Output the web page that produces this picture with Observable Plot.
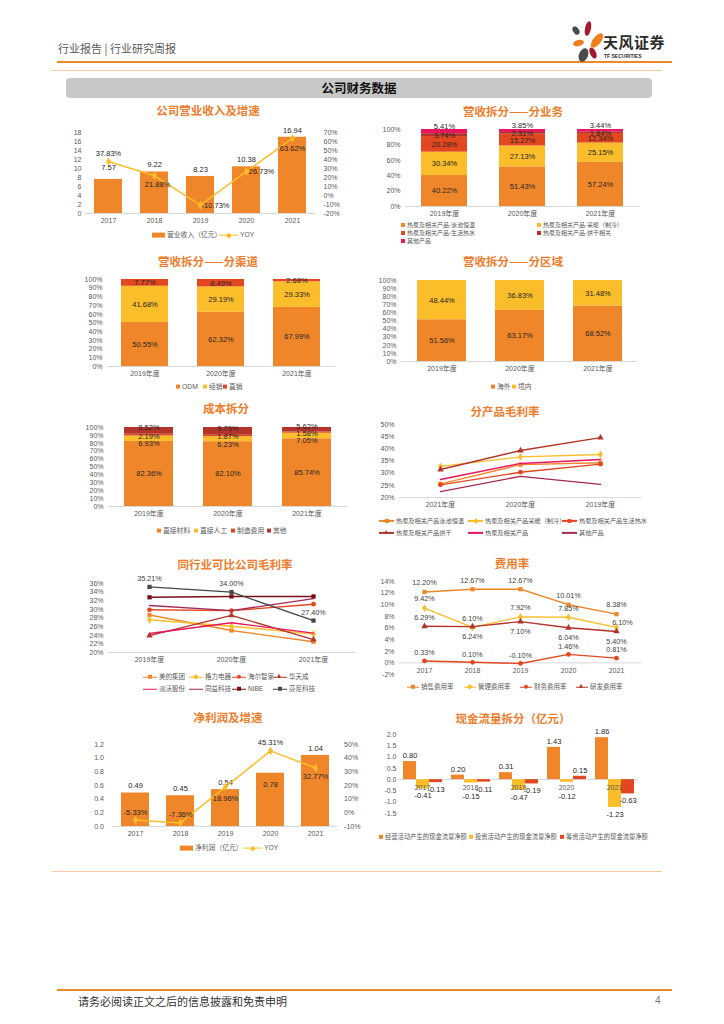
<!DOCTYPE html>
<html><head><meta charset="utf-8">
<script src="https://cdn.jsdelivr.net/npm/d3@7"></script>
<script src="https://cdn.jsdelivr.net/npm/@observablehq/plot@0.6"></script>
<style>
body{margin:0;background:#fff;}
#page{position:relative;width:724px;height:1024px;overflow:hidden;font-family:'Liberation Sans','Noto Sans CJK SC',sans-serif;}
.title{position:absolute;transform:translate(-50%,-50%);white-space:nowrap;color:#EE7D2C;font-weight:bold;font-size:11.5px;font-family:'Noto Sans CJK SC',sans-serif;}
.lg{position:absolute;transform:translateY(-50%);display:flex;align-items:center;white-space:nowrap;font-size:6.5px;color:#595959;line-height:1;}
.lg i{font-style:normal;flex:none;}
</style></head>
<body><div id="page"></div>
<script>
// ================= DATA =================
const revYears = ["2017","2018","2019","2020","2021"];
const revenue  = [7.57, 9.22, 8.23, 10.38, 16.94];
const revYoy   = [37.83, 21.88, -10.73, 26.73, 63.62];
const revTicks = [0,2,4,6,8,10,12,14,16,18];
const revYoyTicks = [-20,-10,0,10,20,30,40,50,60,70];

const bizYears = ["2019年度","2020年度","2021年度"];
const bizCats  = ["热泵及相关产品-泳池恒温","热泵及相关产品-采暖（制冷）","热泵及相关产品-生活热水","热泵及相关产品-烘干相关","其他产品"];
const bizPool  = [40.22, 51.43, 57.24];
const bizHeat  = [30.34, 27.13, 25.15];
const bizWater = [20.28, 15.27, 12.34];
const bizDry   = [3.74, 2.31, 1.84];
const bizOther = [5.41, 3.85, 3.44];
const ticks20  = [0,20,40,60,80,100];
const ticks10  = [0,10,20,30,40,50,60,70,80,90,100];

const chYears  = ["2019年度","2020年度","2021年度"];
const chCats   = ["ODM","经销","直销"];
const chOdm    = [50.55, 62.32, 67.99];
const chDealer = [41.68, 29.19, 29.33];
const chDirect = [7.77, 8.49, 2.68];

const rgYears    = ["2019年度","2020年度","2021年度"];
const rgCats     = ["海外","境内"];
const rgOverseas = [51.56, 63.17, 68.52];
const rgDomestic = [48.44, 36.83, 31.48];

const costYears = ["2019年度","2020年度","2021年度"];
const costCats  = ["直接材料","直接人工","制造费用","其他"];
const costMat   = [82.36, 82.10, 85.74];
const costLabor = [6.93, 6.23, 7.05];
const costMfg   = [2.19, 1.87, 1.58];
const costOther = [8.52, 9.79, 5.62];

const gmYears  = ["2021年度","2020年度","2019年度"];
const gmNames  = ["热泵及相关产品泳池恒温","热泵及相关产品采暖（制冷）","热泵及相关产品生活热水","热泵及相关产品烘干","热泵及相关产品","其他产品"];
const gmPool   = [25.6, 33.5, 34.3];
const gmHeat   = [32.8, 36.7, 37.7];
const gmWater  = [25.2, 30.4, 33.7];
const gmDry    = [31.5, 39.3, 44.6];
const gmAll    = [27.4, 34.0, 35.6];
const gmOther  = [22.4, 28.7, 25.4];
const gmTicks  = [20,25,30,35,40,45,50];

const peerYears = ["2019年度","2020年度","2021年度"];
const peerNames = ["美的集团","格力电器","海尔智家","华天成","派沃股份","同益科技","NIBE","芬尼科技"];
const peerMidea = [28.7, 25.1, 22.5];
const peerGree  = [27.6, 26.1, 24.3];
const peerHaier = [29.9, 29.7, 31.2];
const peerHtc   = [23.9, 28.6, 23.0];
const peerPw    = [24.4, 26.9, 24.5];
const peerTy    = [30.9, 29.7, 32.5];
const peerNibe  = [32.8, 33.0, 33.0];
const peerPhnix = [35.21, 34.00, 27.40];
const peerTicks = [20,22,24,26,28,30,32,34,36];

const feeYears  = ["2017","2018","2019","2020","2021"];
const feeNames  = ["销售费用率","管理费用率","财务费用率","研发费用率"];
const feeSales  = [12.20, 12.67, 12.67, 10.01, 8.38];
const feeAdmin  = [9.42, 6.10, 7.92, 7.85, 6.10];
const feeFin    = [0.33, 0.10, -0.10, 1.46, 0.81];
const feeRd     = [6.29, 6.24, 7.10, 6.04, 5.40];
const feeTicks  = [-2,0,2,4,6,8,10,12,14];

const npYears   = ["2017","2018","2019","2020","2021"];
const netProfit = [0.49, 0.45, 0.54, 0.78, 1.04];
const npYoy     = [-5.33, -7.36, 18.96, 45.31, 32.77];
const npTicks   = [0,0.2,0.4,0.6,0.8,1.0,1.2];
const npYoyTicks= [-10,0,10,20,30,40,50];

const cfYears = ["2017","2018","2019","2020","2021"];
const cfTypes = ["经营活动产生的现金流量净额","投资活动产生的现金流量净额","筹资活动产生的现金流量净额"];
const cfOper  = [0.80, 0.20, 0.31, 1.43, 1.86];
const cfInv   = [-0.41, -0.15, -0.47, -0.12, -1.23];
const cfFin   = [-0.13, -0.11, -0.19, 0.15, -0.63];
const cfTicks = [-1.5,-1.0,-0.5,0,0.5,1.0,1.5,2.0];

// ================= HELPERS =================
const page = document.getElementById("page");
const FONT = "'Liberation Sans','Noto Sans CJK SC',sans-serif";
const ORANGE="#F0862A", YELLOW="#FBBD2A", RED="#E2471F", DRED="#B33429", MAG="#E8175D", DMAG="#A32A55", MAROON="#7A1016", GRAY="#474747";
const LABEL="#262626", LBL2="#404040", AXIS="#d9d9d9";
const pct = d => d.v.toFixed(2) + "%";

function mk(o){
  return Plot.plot({...o, style:{fontFamily:FONT, fontSize:"7px", color:"#595959", background:"transparent", overflow:"visible"}});
}
function place(el,l,t){ el.style.position="absolute"; el.style.left=l+"px"; el.style.top=t+"px"; page.appendChild(el); return el; }
function box(css){ const d=document.createElement("div"); d.style.cssText=css; page.appendChild(d); return d; }
function title(str,cx,cy){ const d=document.createElement("div"); d.className="title"; d.textContent=str; d.style.left=cx+"px"; d.style.top=cy+"px"; page.appendChild(d); }
function sq(c,w=4,h=4){ return `<i style="display:inline-block;width:${w}px;height:${h}px;background:${c};margin-right:2px"></i>`; }
function ln(c,sym,w=13){
  let m="";
  if(sym==="square") m=`<i style="position:absolute;left:50%;top:50%;width:4px;height:4px;margin:-2px 0 0 -2px;background:${c}"></i>`;
  if(sym==="diamond") m=`<i style="position:absolute;left:50%;top:50%;width:3.6px;height:3.6px;margin:-1.8px 0 0 -1.8px;background:${c};transform:rotate(45deg)"></i>`;
  if(sym==="circle") m=`<i style="position:absolute;left:50%;top:50%;width:4.2px;height:4.2px;margin:-2.1px 0 0 -2.1px;border-radius:50%;background:${c}"></i>`;
  if(sym==="triangle") m=`<i style="position:absolute;left:50%;top:50%;width:0;height:0;margin:-3px 0 0 -2.6px;border-left:2.6px solid transparent;border-right:2.6px solid transparent;border-bottom:4.6px solid ${c}"></i>`;
  return `<i style="position:relative;display:inline-block;width:${w}px;height:1.4px;background:${c};margin-right:2px">${m}</i>`;
}
function lg(x,y,sw,label,size){ const d=document.createElement("div"); d.className="lg"; d.innerHTML=sw+`<span>${label}</span>`; d.style.left=x+"px"; d.style.top=y+"px"; if(size) d.style.fontSize=size+"px"; page.appendChild(d); }
function series(years, values){ return years.map((year,i)=>({year, v:values[i]})); }
function lineMarks(d, color, symbol){
  const m=[Plot.line(d,{x:"year",y:"v",stroke:color,strokeWidth:1.4})];
  if(symbol) m.push(Plot.dot(d,{x:"year",y:"v",fill:color,stroke:"none",symbol,r:2.4}));
  return m;
}

// ================= PAGE FRAME =================
box("position:absolute;left:58px;top:41px;font-size:11px;color:#595959;font-family:'Noto Sans CJK SC',sans-serif;white-space:nowrap;line-height:14px").textContent="行业报告 | 行业研究周报";
box("position:absolute;left:57px;top:61px;width:615px;height:2px;background:#EC8A2B");
box("position:absolute;left:52px;top:70px;width:610px;height:1px;background:#F9C9A2");
box("position:absolute;left:66px;top:78px;width:586px;height:20px;background:#C8C8C8;border-radius:4px");
box("position:absolute;left:66px;top:78px;width:586px;height:20px;line-height:20px;text-align:center;font-weight:bold;font-size:12.5px;color:#111;font-family:'Noto Sans CJK SC',sans-serif").textContent="公司财务数据";
// logo
box("position:absolute;left:573px;top:26px;width:6px;height:9px;border-radius:50%;background:#4a4a4a;transform:rotate(-35deg)");
box("position:absolute;left:585px;top:21px;width:6px;height:15px;border-radius:50%;background:#A3192E;transform:rotate(12deg)");
box("position:absolute;left:593px;top:32px;width:8px;height:17px;border-radius:50%;background:#EF7F1A;transform:rotate(38deg)");
box("position:absolute;left:573px;top:40px;width:11px;height:6px;border-radius:50%;background:#EF7F1A;transform:rotate(-12deg)");
box("position:absolute;left:579px;top:48px;width:9px;height:14px;border-radius:50%;background:#4a4a4a;transform:rotate(22deg)");
box("position:absolute;left:590px;top:47px;width:6px;height:12px;border-radius:50%;background:#A3192E;transform:rotate(-25deg)");
box("position:absolute;left:603px;top:33px;font-size:15px;font-weight:bold;color:#2b2b2b;font-family:'Noto Sans CJK SC',sans-serif;white-space:nowrap;line-height:18px;letter-spacing:0.5px").textContent="天风证券";
box("position:absolute;left:604px;top:53px;font-size:5px;font-weight:bold;color:#333;white-space:nowrap;line-height:6px").textContent="TF SECURITIES";
// footer
box("position:absolute;left:52px;top:871px;width:610px;height:1px;background:#F9C9A2");
box("position:absolute;left:57px;top:989px;width:615px;height:2px;background:#EC8A2B");
box("position:absolute;left:78px;top:994px;font-size:11px;color:#333;font-family:'Noto Sans CJK SC',sans-serif;white-space:nowrap;line-height:14px").textContent="请务必阅读正文之后的信息披露和免责申明";
box("position:absolute;left:655px;top:994px;font-size:10px;color:#777;line-height:14px").textContent="4";

// ================= 1. 公司营业收入及增速 =================
title("公司营业收入及增速",208,110);
{
  const data = revYears.map((year,i)=>({year, v:revenue[i], g:revYoy[i]}));
  const dims = {width:290, height:108, marginTop:12, marginBottom:15, marginLeft:25, marginRight:35};
  const g = d=>d.g.toFixed(2)+"%";
  place(mk({...dims,
    x:{domain:revYears, paddingInner:0.4, paddingOuter:0.2, tickSize:0, tickPadding:5, label:null},
    y:{domain:[0,18], ticks:revTicks, tickSize:0, tickPadding:4, label:null},
    marks:[
      Plot.ruleY([0],{stroke:AXIS}),
      Plot.barY(data,{x:"year",y:"v",fill:ORANGE}),
      Plot.text(data,{filter:d=>d.year!=="2017",x:"year",y:"v",text:d=>d.v.toFixed(2),dy:-7,fill:LABEL,fontSize:7.5}),
      Plot.text(data,{filter:d=>d.year==="2017",x:"year",y:"v",text:d=>d.v.toFixed(2),dy:-12,fill:LABEL,fontSize:7.5})
    ]}),60,120);
  place(mk({...dims,
    x:{domain:revYears, paddingInner:0.4, paddingOuter:0.2, axis:null},
    y:{domain:[-20,70], ticks:revYoyTicks, axis:"right", tickSize:0, tickPadding:8, tickFormat:d=>d+"%", label:null},
    marks:[
      Plot.line(data,{x:"year",y:"g",stroke:YELLOW,strokeWidth:1.5}),
      Plot.dot(data,{x:"year",y:"g",fill:YELLOW,stroke:"none",symbol:"diamond",r:2.6}),
      Plot.text(data,{filter:d=>d.year==="2017",x:"year",y:"g",text:g,dy:-8,fill:LABEL,fontSize:7.5}),
      Plot.text(data,{filter:d=>d.year==="2018",x:"year",y:"g",text:g,dy:9,dx:3,fill:LABEL,fontSize:7.5}),
      Plot.text(data,{filter:d=>d.year==="2019"||d.year==="2020",x:"year",y:"g",text:g,dx:15,fill:LABEL,fontSize:7.5}),
      Plot.text(data,{filter:d=>d.year==="2021",x:"year",y:"g",text:g,dy:10,fill:LABEL,fontSize:7.5})
    ]}),60,120);
  lg(152,235,sq(ORANGE,13,5),"营业收入（亿元）",6.8);
  lg(219,235,ln(YELLOW,"diamond",19),"YOY",6.8);
}

// ================= stacked helper =================
function stacked(cfg){
  const {years,cats,cols,colors,left,top,width,height,mt,mb,ml,mr,ticks,pi,dys} = cfg;
  // cumulative stacking per year (bottom category first)
  const data = [];
  years.forEach((year,i)=>{ let acc=0; cats.forEach((cat,j)=>{ const v=cols[j][i]; data.push({year,cat,v,y1:acc,y2:acc+v}); acc+=v; }); });
  const labelMarks = cats.map((cat,j)=>Plot.text(data,{filter:d=>d.cat===cat,x:"year",y:d=>(d.y1+d.y2)/2,text:pct,fill:LABEL,fontSize:7.5,dy:(dys&&dys[j])||0}));
  place(mk({width,height,marginTop:mt,marginBottom:mb,marginLeft:ml,marginRight:mr,
    x:{domain:years, paddingInner:pi, paddingOuter:pi/2, tickSize:0, tickPadding:5, label:null},
    y:{domain:[0,100], ticks, tickSize:0, tickPadding:5, tickFormat:d=>d+"%", label:null},
    color:{domain:cats, range:colors},
    marks:[
      Plot.ruleY([0],{stroke:AXIS}),
      Plot.barY(data,{x:"year",y1:"y1",y2:"y2",fill:"cat"}),
      ...labelMarks
    ]}),left,top);
}

// ================= 2. 分业务 =================
title("营收拆分——分业务",513,111);
stacked({years:bizYears,cats:bizCats,cols:[bizPool,bizHeat,bizWater,bizDry,bizOther],colors:[ORANGE,YELLOW,RED,DRED,MAG],
  left:365,top:120,width:320,height:100,mt:9,mb:14,ml:40,mr:46,ticks:ticks20,pi:0.41,dys:[0,0,0,0.5,-5]});
lg(401,225,sq(ORANGE),bizCats[0],6);
lg(537,225,sq(YELLOW),bizCats[1],6);
lg(401,233,sq(RED),bizCats[2],6);
lg(537,233,sq(DRED),bizCats[3],6);
lg(401,241,sq(MAG),bizCats[4],6);

// ================= 3. 分渠道 =================
title("营收拆分——分渠道",208,261);
stacked({years:chYears,cats:chCats,cols:[chOdm,chDealer,chDirect],colors:[ORANGE,YELLOW,RED],
  left:60,top:270,width:290,height:112,mt:9,mb:16,ml:47,mr:15,ticks:ticks10,pi:0.38});
lg(176,387,sq(ORANGE),chCats[0],6.8);
lg(203,387,sq(YELLOW),chCats[1],6.8);
lg(223,387,sq(RED),chCats[2],6.8);

// ================= 4. 分区域 =================
title("营收拆分——分区域",513,261);
stacked({years:rgYears,cats:rgCats,cols:[rgOverseas,rgDomestic],colors:[ORANGE,YELLOW],
  left:365,top:270,width:320,height:105,mt:10,mb:14,ml:36,mr:48,ticks:ticks10,pi:0.375});
lg(491,387,sq(ORANGE),rgCats[0],6.8);
lg(512,387,sq(YELLOW),rgCats[1],6.8);

// ================= 5. 成本拆分 =================
title("成本拆分",226,408);
stacked({years:costYears,cats:costCats,cols:[costMat,costLabor,costMfg,costOther],colors:[ORANGE,YELLOW,RED,DRED],
  left:60,top:418,width:295,height:104,mt:9,mb:16,ml:48,mr:8,ticks:ticks10,pi:0.38,dys:[0,5,1,-3]});
lg(157,531,sq(ORANGE),costCats[0],6.8);
lg(194,531,sq(YELLOW),costCats[1],6.8);
lg(231,531,sq(RED),costCats[2],6.8);
lg(267,531,sq(DRED),costCats[3],6.8);

// ================= 6. 分产品毛利率 =================
title("分产品毛利率",505,411);
{
  const cfgs = [[gmPool,ORANGE,"square"],[gmHeat,YELLOW,"diamond"],[gmWater,RED,"circle"],[gmDry,DRED,"triangle"],[gmAll,MAG,null],[gmOther,DMAG,null]];
  place(mk({width:320,height:96,marginTop:6,marginBottom:17,marginLeft:34,marginRight:44,
    x:{type:"point",domain:gmYears,padding:0.5,tickSize:0,tickPadding:5,label:null},
    y:{domain:[20,50],ticks:gmTicks,tickSize:0,tickPadding:5,tickFormat:d=>d+"%",label:null},
    marks:[Plot.ruleY([20],{stroke:AXIS}), ...cfgs.flatMap(([vals,c,s])=>lineMarks(series(gmYears,vals),c,s))]
  }),365,418);
  const pos=[[379,521],[468,521],[562,521],[379,533],[468,533],[562,533]];
  cfgs.forEach(([vals,c,s],i)=>lg(pos[i][0],pos[i][1],ln(c,s,15),gmNames[i],6.2));
}

// ================= 7. 同行业可比公司毛利率 =================
title("同行业可比公司毛利率",235,564);
{
  const cfgs = [[peerMidea,ORANGE,"square"],[peerGree,YELLOW,"diamond"],[peerHaier,RED,"circle"],[peerHtc,DRED,"triangle"],
                [peerPw,MAG,null],[peerTy,DMAG,null],[peerNibe,MAROON,"square"],[peerPhnix,GRAY,"square"]];
  const phn = series(peerYears,peerPhnix);
  place(mk({width:300,height:95,marginTop:9,marginBottom:17,marginLeft:47,marginRight:5,
    x:{type:"point",domain:peerYears,padding:0.5,tickSize:0,tickPadding:5,label:null},
    y:{domain:[20,36],ticks:peerTicks,tickSize:0,tickPadding:4,tickFormat:d=>d+"%",label:null},
    marks:[Plot.ruleY([20],{stroke:AXIS}), ...cfgs.flatMap(([vals,c,s])=>lineMarks(series(peerYears,vals),c,s)),
      Plot.text(phn,{x:"year",y:"v",text:pct,dy:-8,fill:LBL2,fontSize:7.2})]
  }),60,574);
  const xs=[143,189,232,273];
  cfgs.forEach(([vals,c,s],i)=>lg(xs[i%4],i<4?677:689,ln(c,s,14),peerNames[i],6.5));
}

// ================= 8. 费用率 =================
title("费用率",512,563);
{
  const sales=series(feeYears,feeSales), admin=series(feeYears,feeAdmin), fin=series(feeYears,feeFin), rd=series(feeYears,feeRd);
  const t = {x:"year",y:"v",text:pct,fill:LBL2,fontSize:7.2};
  place(mk({width:320,height:110,marginTop:9,marginBottom:8,marginLeft:34,marginRight:44,
    x:{type:"point",domain:feeYears,padding:0.5,axis:null},
    y:{domain:[-2,14],ticks:feeTicks,tickSize:0,tickPadding:5,tickFormat:d=>d+"%",label:null},
    marks:[
      Plot.ruleY([0],{stroke:AXIS}),
      Plot.text(feeYears,{x:d=>d,y:d=>0,text:d=>d,dy:8,fill:"#595959",fontSize:7}),
      ...lineMarks(sales,ORANGE,"square"), ...lineMarks(admin,YELLOW,"diamond"), ...lineMarks(fin,RED,"circle"), ...lineMarks(rd,DRED,"triangle"),
      Plot.text(sales,{...t,dy:-9}),
      Plot.text(admin,{...t,filter:d=>d.year!=="2021",dy:-9}),
      Plot.text(admin,{...t,filter:d=>d.year==="2021",dy:-5,dx:6}),
      Plot.text(rd,{...t,filter:d=>d.year==="2017",dy:-9}),
      Plot.text(rd,{...t,filter:d=>d.year!=="2017",dy:10}),
      Plot.text(fin,{...t,dy:-8})
    ]}),365,572);
  const lx=[407,464,520,576], cs=[[ORANGE,"square"],[YELLOW,"diamond"],[RED,"circle"],[DRED,"triangle"]];
  cs.forEach(([c,s],i)=>lg(lx[i],687,ln(c,s,12),feeNames[i],6.5));
}

// ================= 9. 净利润及增速 =================
title("净利润及增速",228,717);
{
  const data = npYears.map((year,i)=>({year, v:netProfit[i], g:npYoy[i]}));
  const dims = {width:300, height:105, marginTop:9, marginBottom:14, marginLeft:51.4, marginRight:22.4};
  const g = d=>d.g.toFixed(2)+"%";
  place(mk({...dims,
    x:{domain:npYears, paddingInner:0.38, paddingOuter:0.19, tickSize:0, tickPadding:5, label:null},
    y:{domain:[0,1.2], ticks:npTicks, tickSize:0, tickPadding:8, tickFormat:d=>d.toFixed(1), label:null},
    marks:[
      Plot.ruleY([0],{stroke:AXIS}),
      Plot.barY(data,{x:"year",y:"v",fill:ORANGE}),
      Plot.text(data,{filter:d=>d.year!=="2020",x:"year",y:"v",text:d=>d.v.toFixed(2),dy:-7,fill:LABEL,fontSize:7.5}),
      Plot.text(data,{filter:d=>d.year==="2020",x:"year",y:"v",text:d=>d.v.toFixed(2),dy:11,fill:LABEL,fontSize:7.5})
    ]}),60,735);
  place(mk({...dims,
    x:{domain:npYears, paddingInner:0.38, paddingOuter:0.19, axis:null},
    y:{domain:[-10,50], ticks:npYoyTicks, axis:"right", tickSize:0, tickPadding:6, tickFormat:d=>d+"%", label:null},
    marks:[
      Plot.line(data,{x:"year",y:"g",stroke:YELLOW,strokeWidth:1.5}),
      Plot.dot(data,{x:"year",y:"g",fill:YELLOW,stroke:"none",symbol:"diamond",r:2.6}),
      Plot.text(data,{filter:d=>["2017","2018","2020"].includes(d.year),x:"year",y:"g",text:g,dy:-8,fill:LABEL,fontSize:7.5}),
      Plot.text(data,{filter:d=>d.year==="2019",x:"year",y:"g",text:g,dy:12,fill:LABEL,fontSize:7.5}),
      Plot.text(data,{filter:d=>d.year==="2021",x:"year",y:"g",text:g,dy:9,fill:LABEL,fontSize:7.5})
    ]}),60,735);
  lg(180,848,sq(ORANGE,13,5),"净利润（亿元）",6.8);
  lg(243,848,ln(YELLOW,"diamond",19),"YOY",6.8);
}

// ================= 10. 现金流量拆分 =================
title("现金流量拆分（亿元）",513,718);
{
  const cfData = cfTypes.flatMap((type,j)=>cfYears.map((year,i)=>({year,type,v:[cfOper,cfInv,cfFin][j][i]})));
  const v = d=>d.v.toFixed(2);
  const smallInv = d=>d.type===cfTypes[1] && d.v<0 && d.v>-0.2;
  place(mk({width:320,height:98,marginTop:9,marginBottom:10,marginLeft:33,marginRight:46,
    facet:{data:cfData,x:"year"},
    fx:{domain:cfYears,paddingInner:0.16,paddingOuter:0.08,axis:null,label:null},
    x:{domain:cfTypes,padding:0,axis:null},
    y:{domain:[-1.5,2],ticks:cfTicks,tickSize:0,tickPadding:6,tickFormat:d=>d.toFixed(1),label:null},
    color:{domain:cfTypes,range:[ORANGE,YELLOW,RED]},
    marks:[
      Plot.ruleY([0],{stroke:AXIS,insetLeft:-4,insetRight:-4}),
      Plot.barY(cfData,{x:"type",y:"v",fill:"type"}),
      Plot.text(cfData,{filter:d=>d.type===cfTypes[0],text:"year",y:d=>0,dy:8,fill:"#595959",fontSize:7}),
      Plot.text(cfData,{filter:d=>d.v>=0,x:"type",y:"v",text:v,dy:-6,fill:LABEL,fontSize:7.5}),
      Plot.text(cfData,{filter:d=>d.v<0 && !smallInv(d),x:"type",y:"v",text:v,dy:7,fill:LABEL,fontSize:7.5}),
      Plot.text(cfData,{filter:smallInv,x:"type",y:"v",text:v,dy:14,fill:LABEL,fontSize:7.5})
    ]}),365,725);
  lg(379,837,sq(ORANGE),cfTypes[0],6.3);
  lg(469,837,sq(YELLOW),cfTypes[1],6.3);
  lg(560,837,sq(RED),cfTypes[2],6.3);
}
</script></body></html>
